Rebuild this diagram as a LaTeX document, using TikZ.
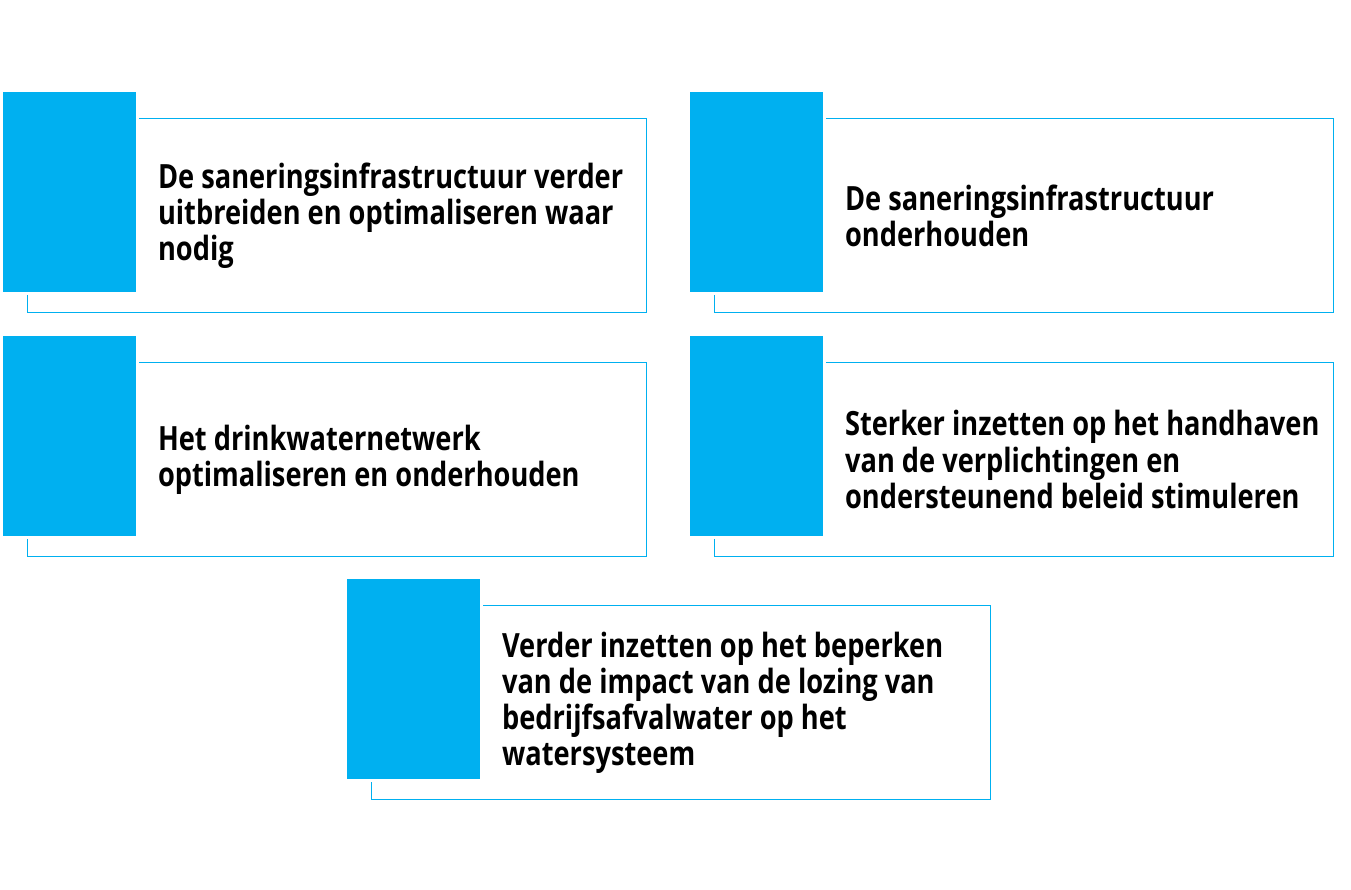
\documentclass[tikz,border=0pt]{standalone}
\usepackage{fontspec}
\setmainfont[FakeStretch=0.815]{Open Sans}
\usepackage{xcolor}
\usepackage{tikz}
\usetikzlibrary{positioning,calc}
\definecolor{accent}{HTML}{00B0F0}

\begin{document}
\begin{tikzpicture}[
  x=0.02cm,y=-0.02cm,
  frame/.style={draw=accent,line width=0.02cm,fill=white,anchor=north west,minimum width=12.38cm,minimum height=3.88cm,inner sep=0pt},
  tab/.style={draw=white,line width=0.05cm,fill=accent,anchor=north west,minimum width=2.71cm,minimum height=4.05cm,inner sep=0pt},
  txt/.style={anchor=west,align=left,inner sep=0pt,font=\fontsize{19}{20.5}\selectfont\bfseries}
]
\useasboundingbox (0,0) rectangle (1351,889);
\node[frame] (f1) at (27,118) {};
\node[tab] (t1) at (0.75,89.75) {};
\node[txt,right=19*0.02cm of t1.east|-f1.center] (l1) {De saneringsinfrastructuur verder\\uitbreiden en optimaliseren waar\\nodig};
\node[frame] (f2) at (714,118) {};
\node[tab] (t2) at (687.75,89.75) {};
\node[txt,right=19*0.02cm of t2.east|-f2.center] (l2) {De saneringsinfrastructuur\\onderhouden};
\node[frame] (f3) at (27,362) {};
\node[tab] (t3) at (0.75,333.75) {};
\node[txt,right=19*0.02cm of t3.east|-f3.center] (l3) {Het drinkwaternetwerk\\optimaliseren en onderhouden};
\node[frame] (f4) at (714,362) {};
\node[tab] (t4) at (687.75,333.75) {};
\node[txt,right=19*0.02cm of t4.east|-f4.center] (l4) {Sterker inzetten op het handhaven\\van de verplichtingen en\\ondersteunend beleid stimuleren};
\node[frame] (f5) at (371,605) {};
\node[tab] (t5) at (344.75,576.75) {};
\node[txt,right=19*0.02cm of t5.east|-f5.center] (l5) {Verder inzetten op het beperken\\van de impact van de lozing van\\bedrijfsafvalwater op het\\watersysteem};
\end{tikzpicture}
\end{document}
